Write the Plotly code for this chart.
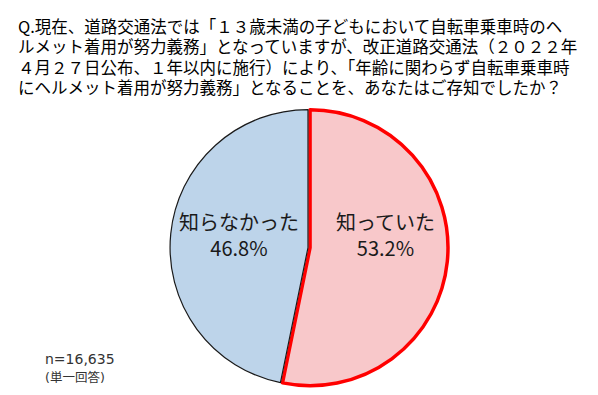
import plotly.graph_objects as go

W, H = 598, 395

labels = ["知っていた", "知らなかった"]
values = [53.2, 46.8]
colors = ["#F8C8CA", "#BDD4EA"]
line_colors = ["#FF0000", "#1a1a1a"]
line_widths = [3.5, 1.2]
pulls = [0.015, 0]

title_lines = [
    "Q.現在、道路交通法では「１３歳未満の子どもにおいて自転車乗車時のヘ",
    "ルメット着用が努力義務」となっていますが、改正道路交通法（２０２２年",
    "４月２７日公布、１年以内に施行）により、「年齢に関わらず自転車乗車時",
    "にヘルメット着用が努力義務」となることを、あなたはご存知でしたか？",
]
note_lines = ["n=16,635", "(単一回答)"]

FONT = "Noto Sans CJK JP"
NOTE_FONT = "DejaVu Sans, Noto Sans CJK JP"

fig = go.Figure()

# pie geometry (pixels)
cx, cy, r = 300, 239.5, 140
fig.add_trace(go.Pie(
    labels=labels,
    values=values,
    sort=False,
    direction="clockwise",
    rotation=0,
    pull=pulls,
    marker=dict(colors=colors, line=dict(color=line_colors, width=line_widths)),
    textinfo="none",
    hoverinfo="label+percent",
    showlegend=False,
    domain=dict(x=[(cx - r) / W, (cx + r) / W], y=[1 - (cy + r) / H, 1 - (cy - r) / H]),
))

def px(x):
    return x / W

def py(y):
    return 1 - y / H

annotations = []
for i, line in enumerate(title_lines):
    annotations.append(dict(
        x=px(8), y=py(18 + 20.5 * i), xref="paper", yref="paper", xanchor="left", yanchor="middle",
        text=line, showarrow=False, align="left",
        font=dict(family=FONT, size=16.5, color="#000000"),
    ))
note_sizes = [14, 12.5]
for i, line in enumerate(note_lines):
    annotations.append(dict(
        x=px(35), y=py(351 + 18 * i), xref="paper", yref="paper", xanchor="left", yanchor="middle",
        text=line, showarrow=False, align="left",
        font=dict(family=NOTE_FONT, size=note_sizes[i], color="#333333"),
    ))
label_pos = {"知らなかった": (231, 226), "知っていた": (377, 226)}
for lab, val in zip(labels, values):
    lx, ly = label_pos[lab]
    annotations.append(dict(
        x=px(lx), y=py(ly), xref="paper", yref="paper", xanchor="center", yanchor="middle",
        text=f"{lab}<br>{val:.1f}%", showarrow=False, align="center",
        font=dict(family=FONT, size=20, color="#1a1a1a"),
    ))

fig.update_layout(
    width=W, height=H,
    margin=dict(l=0, r=0, t=0, b=0),
    paper_bgcolor="white", plot_bgcolor="white",
    annotations=annotations,
)

fig.write_html("out.html")
